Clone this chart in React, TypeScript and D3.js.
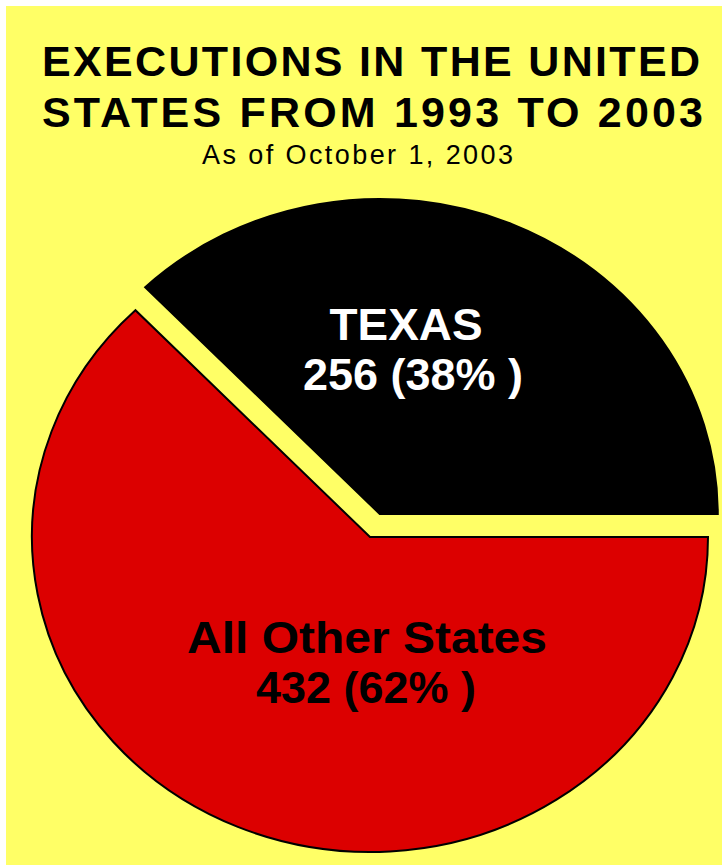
import React from 'react';
import * as d3 from 'd3';

const categories = ['All Other States', 'TEXAS'];
const executions = [432, 256];
const percentLabels = ['62%', '38%'];
const sliceColors = ['#DC0000', '#000000'];
const labelColors = ['#000000', '#FFFFFF'];
const explodeBy = [0, 25];
const titleLines = ['EXECUTIONS IN THE UNITED', 'STATES FROM 1993 TO 2003'];
const subtitle = 'As of October 1, 2003';

const W = 722;
const H = 865;
const cx = 370;
const cy = 537;
const rx = 338;
const ry = 315;
const FONT = '"Liberation Sans", Arial, Helvetica, sans-serif';

// label layout (name line, value line) per category
const labelLayout = [
  { x: 367, nameY: 653, valueY: 703, nameW: 360, valueW: 220, x2: 366 },
  { x: 406, nameY: 340, valueY: 390, nameW: 153, valueW: 220, x2: 413 },
];

export default function App() {
  const pie = d3
    .pie<number>()
    .sort(null)
    .startAngle(Math.PI / 2)
    .endAngle(Math.PI / 2 + 2 * Math.PI);
  const arcs = pie(executions);
  const arc = d3
    .arc<d3.PieArcDatum<number>>()
    .innerRadius(0)
    .outerRadius(ry);

  return (
    <div style={{ position: 'absolute', left: 0, top: 0 }}>
      <svg width={W} height={H} style={{ display: 'block', background: '#ffffff' }}>
        <rect x={6} y={6} width={W - 6} height={H - 6} fill="#FFFF66" />
        {titleLines.map((t, i) => (
          <text
            key={t}
            x={42}
            y={76 + i * 51}
            fontFamily={FONT}
            fontWeight="bold"
            fontSize={43}
            textLength={i === 0 ? 658 : 661}
            lengthAdjust="spacing"
            fill="#000"
          >
            {t}
          </text>
        ))}
        <text
          x={202}
          y={164}
          fontFamily={FONT}
          fontSize={27}
          textLength={311}
          lengthAdjust="spacing"
          fill="#000"
        >
          {subtitle}
        </text>
        {arcs.map((a, i) => {
          const mid = (a.startAngle + a.endAngle) / 2;
          const dx = Math.sin(mid) * explodeBy[i];
          const dy = -Math.cos(mid) * explodeBy[i];
          return (
            <path
              key={categories[i]}
              d={arc(a) || ''}
              transform={`translate(${cx + dx},${cy + dy}) scale(${rx / ry},1)`}
              fill={sliceColors[i]}
              stroke="#000"
              strokeWidth={2}
              vectorEffect="non-scaling-stroke"
              strokeLinejoin="miter"
            />
          );
        })}
        {arcs.map((a, i) => {
          const L = labelLayout[i];
          return (
            <g key={'lbl' + i} fill={labelColors[i]} fontFamily={FONT} fontWeight="bold">
              <text
                x={L.x}
                y={L.nameY}
                textAnchor="middle"
                fontSize={45}
                textLength={L.nameW}
                lengthAdjust="spacingAndGlyphs"
              >
                {categories[i]}
              </text>
              <text
                x={L.x2}
                y={L.valueY}
                textAnchor="middle"
                fontSize={44}
                textLength={L.valueW}
                lengthAdjust="spacingAndGlyphs"
              >
                {`${executions[i]} (${percentLabels[i]} )`}
              </text>
            </g>
          );
        })}
      </svg>
    </div>
  );
}
